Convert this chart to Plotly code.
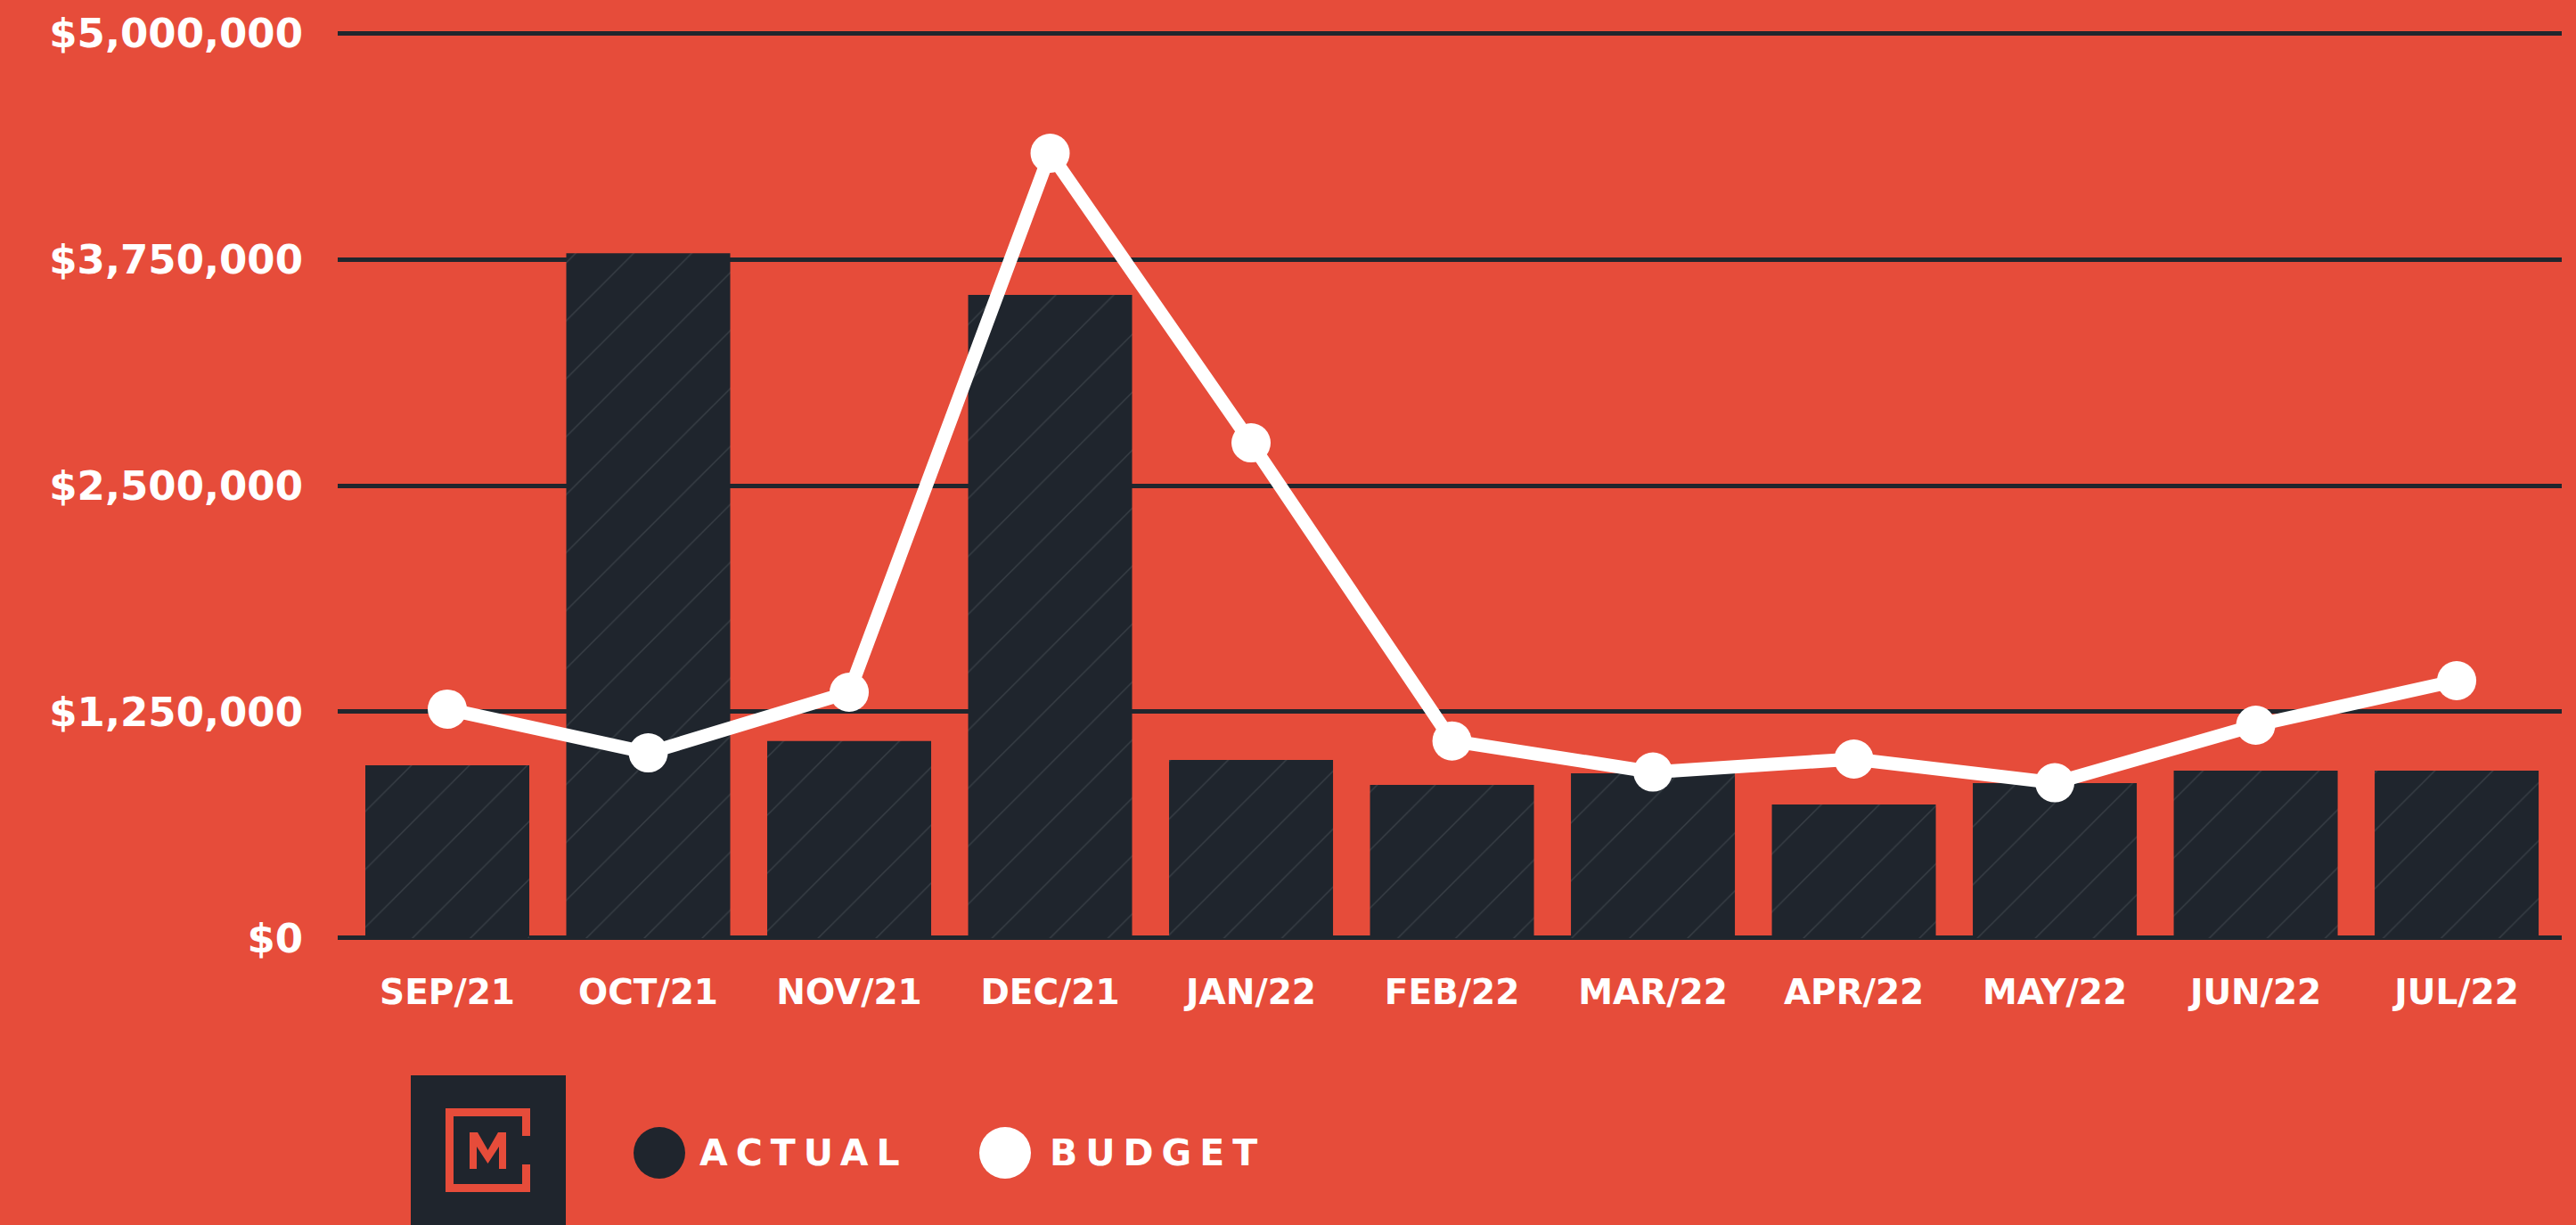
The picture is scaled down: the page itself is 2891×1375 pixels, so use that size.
import plotly.graph_objects as go

months = ["SEP/21", "OCT/21", "NOV/21", "DEC/21", "JAN/22", "FEB/22",
          "MAR/22", "APR/22", "MAY/22", "JUN/22", "JUL/22"]
actual = [955000, 3784000, 1088000, 3553000, 984000, 846000,
          910000, 738000, 856000, 925000, 925000]
budget = [1265000, 1023000, 1358000, 4336000, 2736000, 1089000,
          917000, 989000, 858000, 1176000, 1422000]
y_ticks = [0, 1250000, 2500000, 3750000, 5000000]
legend_labels = ["ACTUAL", "BUDGET"]

BG = "#E64C3A"
DARK = "#1F252D"
WHITE = "#FFFFFF"
FONT = "DejaVu Sans"

W, H = 2891, 1375
L, R, T, B = 379, 16, 31, 316
PW, PH = W - L - R, H - T - B


def px(x):
    return (x - L) / PW


def py(y):
    return (H - B - y) / PH


fig = go.Figure()
fig.add_trace(go.Bar(
    x=list(range(len(months))), y=actual, width=0.816,
    marker=dict(color=DARK, line=dict(width=0),
                pattern=dict(shape="/", fgcolor="#4a5058", fgopacity=0.6,
                             size=46, solidity=0.03)),
    showlegend=False, hoverinfo="skip"))
fig.add_trace(go.Scatter(
    x=list(range(len(months))), y=budget, mode="lines+markers",
    line=dict(color=WHITE, width=15),
    marker=dict(color=WHITE, size=44),
    showlegend=False, hoverinfo="skip"))

shapes = []


def rect(x0, y0, x1, y1, color):
    shapes.append(dict(type="rect", xref="paper", yref="paper",
                       x0=px(x0), x1=px(x1), y0=py(y1), y1=py(y0),
                       fillcolor=color, line=dict(width=0), layer="above"))


# logo block
rect(461, 1207, 635, 1380, DARK)
rect(500, 1244, 509, 1338, BG)
rect(500, 1244, 595, 1253, BG)
rect(500, 1329, 595, 1338, BG)
rect(586, 1244, 595, 1275, BG)
rect(586, 1307, 595, 1338, BG)
m_pts = [(527, 1312), (527, 1271), (536, 1271), (547.5, 1291), (559, 1271),
         (568, 1271), (568, 1312), (560, 1312), (560, 1287), (547.5, 1306),
         (535, 1287), (535, 1312)]
path = "M " + " L ".join(f"{px(a):.6f},{py(b):.6f}" for a, b in m_pts) + " Z"
shapes.append(dict(type="path", xref="paper", yref="paper", path=path,
                   fillcolor=BG, line=dict(width=0), layer="above"))

# legend circles
for cx, col in [(740, DARK), (1128, WHITE)]:
    r = 29
    shapes.append(dict(type="circle", xref="paper", yref="paper",
                       x0=px(cx - r), x1=px(cx + r), y0=py(1294 + r), y1=py(1294 - r),
                       fillcolor=col, line=dict(width=0), layer="above"))

annotations = []
for lx, lab in [(783, legend_labels[0]), (1176, legend_labels[1])]:
    annotations.append(dict(
        xref="paper", yref="paper", x=px(lx), y=py(1294), xanchor="left",
        yanchor="middle", showarrow=False,
        text=f'<span style="letter-spacing:9px">{lab}</span>',
        font=dict(family=FONT, size=41, color=WHITE, weight="bold")))

fig.update_layout(
    width=W, height=H,
    margin=dict(l=L, r=R, t=T, b=B, pad=0),
    paper_bgcolor=BG, plot_bgcolor=BG,
    shapes=shapes, annotations=annotations,
    xaxis=dict(range=[-0.5455, 10.523], tickvals=list(range(len(months))),
               ticktext=months, showgrid=False, zeroline=False, showline=False,
               ticks="", ticklabelstandoff=28,
               tickfont=dict(family=FONT, size=39, color=WHITE, weight="bold")),
    yaxis=dict(range=[-30000, 5030000], tickvals=y_ticks, tickformat="$,d",
               showgrid=True, gridcolor="#20262D", gridwidth=5,
               zeroline=False, showline=False, ticks="", ticklabelstandoff=38,
               tickfont=dict(family=FONT, size=45, color=WHITE, weight="bold")),
    bargap=0.18,
)

fig.write_html("out.html")
